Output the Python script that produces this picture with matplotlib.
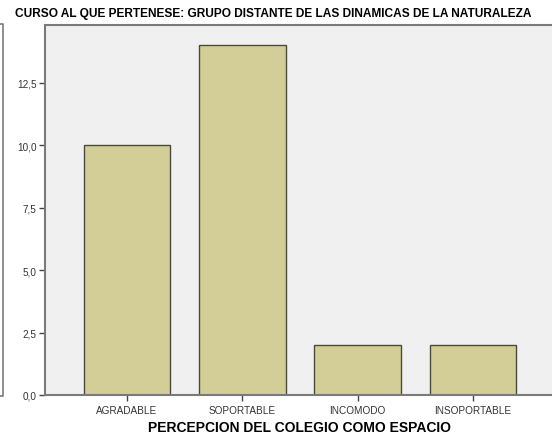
import matplotlib
matplotlib.use("Agg")
import matplotlib.pyplot as plt
from matplotlib.lines import Line2D
from matplotlib.ticker import FuncFormatter

plt.rcParams["font.family"] = ["Liberation Sans", "DejaVu Sans"]

categories = ["AGRADABLE", "SOPORTABLE", "INCOMODO", "INSOPORTABLE"]
counts = [10, 14, 2, 2]
y_ticks = [0.0, 2.5, 5.0, 7.5, 10.0, 12.5]

title = "CURSO AL QUE PERTENESE: GRUPO DISTANTE DE LAS DINAMICAS DE LA NATURALEZA"
xlabel = "PERCEPCION DEL COLEGIO COMO ESPACIO"

W, H = 552, 439
fig = plt.figure(figsize=(W / 100, H / 100), dpi=100)
ax = fig.add_axes([45 / W, 1 - 396 / H, 510 / W, 370 / H])
ax.set_facecolor("#F0F0F0")

x = list(range(len(categories)))
ax.bar(x, counts, width=0.75, color="#D3CE97", edgecolor="#4A4A3A", linewidth=1.0, zorder=2)

ax.set_xlim(-0.71, 3.71)
ax.set_ylim(0, 14.82)
ax.set_yticks(y_ticks)
ax.yaxis.set_major_formatter(FuncFormatter(lambda v, _: f"{v:.1f}".replace(".", ",")))
ax.set_xticks(x, categories)

for side in ["left", "bottom", "top", "right"]:
    ax.spines[side].set_color("#7A7A7A")
    ax.spines[side].set_linewidth(1.5)

ax.tick_params(axis="both", direction="out", length=4, width=1.0, color="#444444",
               labelsize=7.2, labelcolor="#333333", pad=2)
ax.tick_params(axis="x", pad=3)

ax.set_xlabel(xlabel, fontsize=10, fontweight="bold", labelpad=4)
fig.text(273 / W, 1 - 14 / H, title, ha="center", va="center", fontsize=8.6, fontweight="bold")

# right edge of the neighbouring panel on the left
fig.add_artist(Line2D([0, 3 / W, 3 / W, 0], [1 - 25 / H, 1 - 25 / H, 1 - 397 / H, 1 - 397 / H],
                      color="#7A7A7A", linewidth=1.2))

fig.savefig("out.png", dpi=100)
